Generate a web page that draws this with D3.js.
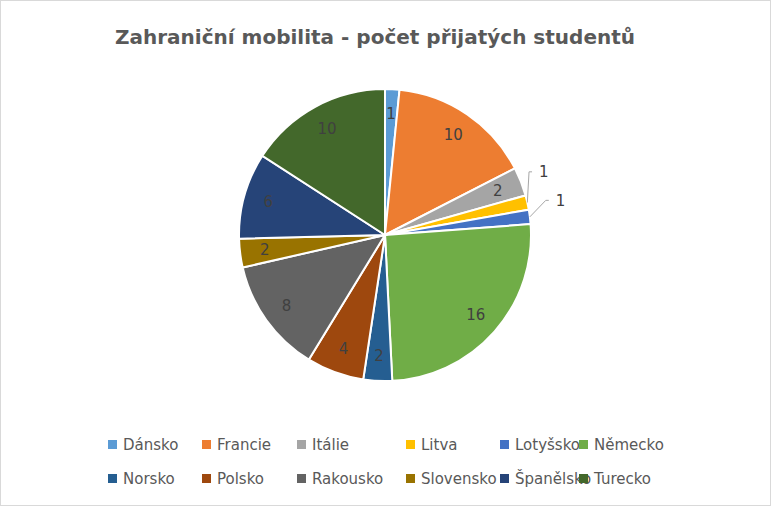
<!DOCTYPE html><html><head><meta charset="utf-8"><script src="https://cdn.jsdelivr.net/npm/d3@7"></script>
<style>body{margin:0;background:#fff}</style></head><body><svg id="c" width="771" height="506"></svg>
<script>
const categories=["Dánsko","Francie","Itálie","Litva","Lotyšsko","Německo","Norsko","Polsko","Rakousko","Slovensko","Španělsko","Turecko"];
const values=[1,10,2,1,1,16,2,4,8,2,6,10];
const colors=["#5B9BD5","#ED7D31","#A5A5A5","#FFC000","#4472C4","#70AD47","#255E91","#9E480E","#636363","#997300","#264478","#43682B"];
const outside=[false,false,false,true,true,false,false,false,false,false,false,false];
const svg=d3.select("#c");
svg.append("rect").attr("x",0.5).attr("y",0.5).attr("width",770).attr("height",505).attr("fill","#fff").attr("stroke","#d9d9d9");
svg.append("text").attr("x",375).attr("y",44).attr("text-anchor","middle").attr("font-family","DejaVu Sans").attr("font-weight","bold").attr("font-size",20).attr("fill","#595959").text("Zahraniční mobilita - počet přijatých studentů");
const cx=385,cy=235,R=146;
const g=svg.append("g").attr("transform",`translate(${cx},${cy})`);
const pie=d3.pie().sort(null).value(d=>d)(values);
const arc=d3.arc().innerRadius(0).outerRadius(R);
g.selectAll("path").data(pie).join("path").attr("d",arc).attr("fill",(d,i)=>colors[i]).attr("stroke","#fff").attr("stroke-width",2);
const lab=d3.arc().innerRadius(R*0.83).outerRadius(R*0.83);
pie.forEach((d,i)=>{
  const a=(d.startAngle+d.endAngle)/2;
  let x,y;
  if(outside[i]){
    const ex=Math.sin(a)*R,ey=-Math.cos(a)*R;
    x=Math.sin(a)*(R+12)+ (i===3?-2:12); y=-Math.cos(a)*(R+12)+(i===3?-28:-15);
    g.append("polyline").attr("points",`${ex},${ey} ${x-8},${y} ${x-5},${y}`).attr("fill","none").attr("stroke","#a6a6a6");
    x+=2;
  } else {[x,y]=lab.centroid(d);}
  g.append("text").attr("x",x).attr("y",y).attr("dy","0.35em").attr("text-anchor",outside[i]?"start":"middle").attr("font-family","DejaVu Sans").attr("font-size",15).attr("fill","#404040").text(values[i]);
});
const lx=[108,202,297,406,500,579];
categories.forEach((c,i)=>{
  const col=i%6,row=Math.floor(i/6);
  const y=row?479:445;
  svg.append("rect").attr("x",lx[col]).attr("y",y-5).attr("width",9).attr("height",9).attr("fill",colors[i]);
  svg.append("text").attr("x",lx[col]+15).attr("y",y).attr("dy","0.35em").attr("font-family","DejaVu Sans").attr("font-size",15).attr("fill","#595959").text(c);
});
</script></body></html>
